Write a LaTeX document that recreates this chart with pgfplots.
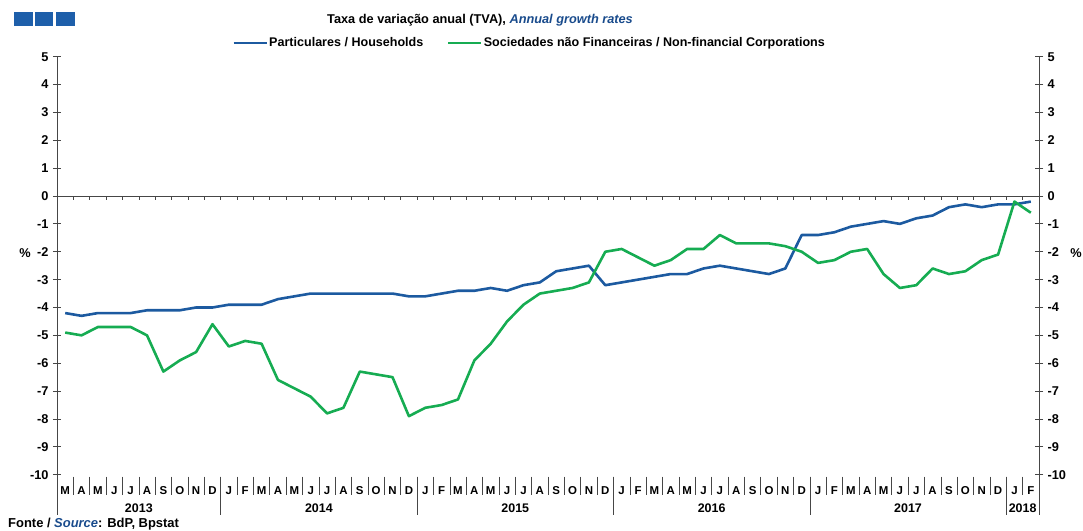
\documentclass[border=0pt]{standalone}
\usepackage{pgfplots}
\pgfplotsset{compat=1.18}
\usepackage{fontspec}
\setmainfont{Liberation Sans}
\definecolor{hhblue}{RGB}{28,90,160}
\definecolor{nfgreen}{RGB}{22,172,82}
\definecolor{titleblue}{RGB}{25,75,140}
\definecolor{logoblue}{RGB}{30,95,170}
\definecolor{axgray}{RGB}{70,70,70}

\pgfplotstableread{
i v
0 -4.2
1 -4.3
2 -4.2
3 -4.2
4 -4.2
5 -4.1
6 -4.1
7 -4.1
8 -4.0
9 -4.0
10 -3.9
11 -3.9
12 -3.9
13 -3.7
14 -3.6
15 -3.5
16 -3.5
17 -3.5
18 -3.5
19 -3.5
20 -3.5
21 -3.6
22 -3.6
23 -3.5
24 -3.4
25 -3.4
26 -3.3
27 -3.4
28 -3.2
29 -3.1
30 -2.7
31 -2.6
32 -2.5
33 -3.2
34 -3.1
35 -3.0
36 -2.9
37 -2.8
38 -2.8
39 -2.6
40 -2.5
41 -2.6
42 -2.7
43 -2.8
44 -2.6
45 -1.4
46 -1.4
47 -1.3
48 -1.1
49 -1.0
50 -0.9
51 -1.0
52 -0.8
53 -0.7
54 -0.4
55 -0.3
56 -0.4
57 -0.3
58 -0.3
59 -0.2
}\households

\pgfplotstableread{
i v
0 -4.9
1 -5.0
2 -4.7
3 -4.7
4 -4.7
5 -5.0
6 -6.3
7 -5.9
8 -5.6
9 -4.6
10 -5.4
11 -5.2
12 -5.3
13 -6.6
14 -6.9
15 -7.2
16 -7.8
17 -7.6
18 -6.3
19 -6.4
20 -6.5
21 -7.9
22 -7.6
23 -7.5
24 -7.3
25 -5.9
26 -5.3
27 -4.5
28 -3.9
29 -3.5
30 -3.4
31 -3.3
32 -3.1
33 -2.0
34 -1.9
35 -2.2
36 -2.5
37 -2.3
38 -1.9
39 -1.9
40 -1.4
41 -1.7
42 -1.7
43 -1.7
44 -1.8
45 -2.0
46 -2.4
47 -2.3
48 -2.0
49 -1.9
50 -2.8
51 -3.3
52 -3.2
53 -2.6
54 -2.8
55 -2.7
56 -2.3
57 -2.1
58 -0.2
59 -0.6
}\corporations

\begin{document}
\begin{tikzpicture}[x=1bp,y=1bp]
\path[use as bounding box] (0,0) rectangle (1083,531);
% logo
\fill[logoblue] (14,505) rectangle (32.7,519.3);
\fill[logoblue] (35,505) rectangle (53.3,519.3);
\fill[logoblue] (56,505) rectangle (75,519.3);
% title
\node at (480,511) {\bfseries\fontsize{12.8}{14}\selectfont Taxa de variação anual (TVA), \textcolor{titleblue}{\itshape Annual growth rates}};

\begin{axis}[
  at={(57bp,56.3bp)}, anchor=south west,
  scale only axis, width=982bp, height=418bp,
  xmin=-0.5, xmax=59.5, ymin=-10, ymax=5,
  clip=false,
  separate axis lines,
  x axis line style={draw=none},
  y axis line style={draw=axgray, line width=0.8bp},
  xtick={0,...,59},
  xticklabels={M,A,M,J,J,A,S,O,N,D,
    J,F,M,A,M,J,J,A,S,O,N,D,
    J,F,M,A,M,J,J,A,S,O,N,D,
    J,F,M,A,M,J,J,A,S,O,N,D,
    J,F,M,A,M,J,J,A,S,O,N,D,
    J,F},
  major x tick style={draw=none},
  xticklabel style={font=\bfseries\fontsize{11.5}{11.5}\selectfont, yshift=-4bp},
  ytick={-10,-9,...,5},
  tick align=center,
  major tick length=8bp,
  ytick pos=both,
  yticklabel pos=left,
  y tick style={draw=axgray, line width=0.8bp},
  yticklabel style={font=\bfseries\fontsize{12.8}{12.8}\selectfont, xshift=-1bp},
  /pgf/number format/assume math mode=true,
  legend style={at={(rel axis cs:0.481,1.033)}, anchor=center, draw=none, fill=none,
    legend columns=2, font=\bfseries\fontsize{12.6}{12.6}\selectfont,
    /tikz/every even column/.append style={column sep=22bp},
    inner sep=0pt, nodes={inner sep=1.5bp}},
  legend cell align=left,
  legend image code/.code={\draw[#1, line width=2.4bp] (0bp,0bp) -- (33bp,0bp);},
]
\addplot[hhblue, line width=2.6bp, line join=round] table[x=i, y=v] {\households};
\addlegendentry{Particulares / Households}
\addplot[nfgreen, line width=2.6bp, line join=round] table[x=i, y=v] {\corporations};
\addlegendentry{Sociedades não Financeiras / Non-financial Corporations}

% zero line with boundary ticks
\draw[axgray, line width=0.8bp] (axis cs:-0.5,0) -- (axis cs:59.5,0);
\pgfplotsinvokeforeach{0.5,1.5,...,58.5}{
  \draw[axgray, line width=0.6bp] (axis cs:#1,0) -- ++(0bp,-3.5bp);
  \draw[axgray, line width=0.6bp] (axis cs:#1,-10) ++(0bp,-2bp) -- ++(0bp,-18.5bp);
}
\pgfplotsinvokeforeach{9.5,21.5,33.5,45.5,57.5}{
  \draw[axgray, line width=0.6bp] (axis cs:#1,-10) ++(0bp,-2bp) -- ++(0bp,-38.5bp);
}
\draw[axgray, line width=0.8bp] (axis cs:-0.5,-10) -- ++(0bp,-40.5bp);
\draw[axgray, line width=0.8bp] (axis cs:59.5,-10) -- ++(0bp,-40.5bp);
% years
\tikzset{yr/.style={font=\bfseries\fontsize{12.5}{12.5}\selectfont, yshift=-34bp}}
\node[yr] at (axis cs:4.5,-10) {2013};
\node[yr] at (axis cs:15.5,-10) {2014};
\node[yr] at (axis cs:27.5,-10) {2015};
\node[yr] at (axis cs:39.5,-10) {2016};
\node[yr] at (axis cs:51.5,-10) {2017};
\node[yr] at (axis cs:58.5,-10) {2018};
\end{axis}

\begin{axis}[
  at={(57bp,56.3bp)}, anchor=south west,
  scale only axis, width=982bp, height=418bp,
  xmin=-0.5, xmax=59.5, ymin=-10, ymax=5,
  axis x line=none,
  axis y line*=right,
  y axis line style={draw=axgray, line width=0.8bp, -},
  ytick={-10,-9,...,5},
  tick align=center,
  major tick length=8bp,
  y tick style={draw=axgray, line width=0.8bp},
  yticklabel style={font=\bfseries\fontsize{12.8}{12.8}\selectfont, xshift=1bp},
  /pgf/number format/assume math mode=true,
]
\end{axis}

% percent signs
\node[font=\bfseries\fontsize{12.8}{12.8}\selectfont] at (25,278) {\%};
\node[font=\bfseries\fontsize{12.8}{12.8}\selectfont] at (1076,278) {\%};
% source
\node[anchor=west, font=\bfseries\fontsize{13}{13}\selectfont, inner sep=0pt] at (8,7) {Fonte / \textcolor{titleblue}{\itshape Source}: BdP, Bpstat};
\end{tikzpicture}
\end{document}
